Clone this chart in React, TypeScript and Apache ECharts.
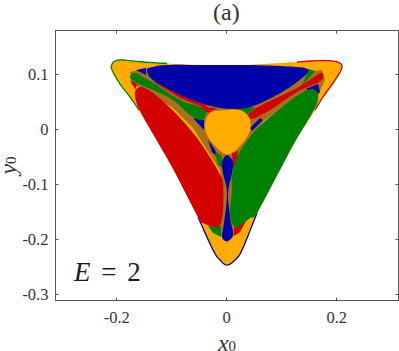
import React, { useEffect, useRef } from "react";
import * as echarts from "echarts";

type Pt = [number, number];

const orange = "#FFAB00";
const blue = "#0000A8";
const red = "#D20000";
const green = "#008000";
const mixed = "#A8701C";

const xTicks = [-0.2, 0, 0.2];
const yTicks = [-0.3, -0.2, -0.1, 0, 0.1];

const outerBoundary: Pt[] = [
  [-0.2091, 0.1164], [-0.2031, 0.1236], [-0.1885, 0.1255], [-0.1522, 0.1218], [-0.1085, 0.1191],
  [-0.0485, 0.1164], [0.006, 0.1155], [0.066, 0.1182], [0.1278, 0.1218], [0.1696, 0.1245],
  [0.1933, 0.1236], [0.2042, 0.1209], [0.2096, 0.1145], [0.206, 0.1036], [0.1933, 0.0836],
  [0.1751, 0.0582], [0.1605, 0.0345], [0.126, -0.02], [0.0969, -0.0709], [0.0551, -0.1527], [0.0278, -0.22],
  [0.0151, -0.2382], [0.0005, -0.2473], [-0.0122, -0.2382], [-0.0249, -0.22], [-0.0522, -0.16],
  [-0.0976, -0.0709], [-0.1267, -0.02], [-0.1595, 0.0345], [-0.1758, 0.0582], [-0.194, 0.0818], [-0.2085, 0.1073],
];
const edgeTopLeft: Pt[] = [
  [-0.1595, 0.0345], [-0.1758, 0.0582], [-0.194, 0.0818], [-0.2085, 0.1073], [-0.2091, 0.1164], [-0.2031, 0.1236],
  [-0.1885, 0.1255], [-0.1522, 0.1218], [-0.1085, 0.1191],
];
const edgeRight: Pt[] = [
  [0.1278, 0.1218], [0.1696, 0.1245], [0.1933, 0.1236], [0.2042, 0.1209], [0.2096, 0.1145],
  [0.206, 0.1036], [0.1933, 0.0836], [0.1751, 0.0582], [0.1605, 0.0345],
];
const edgeBottom: Pt[] = [
  [0.0551, -0.1527], [0.0278, -0.22], [0.0151, -0.2382], [0.0005, -0.2473], [-0.0122, -0.2382],
  [-0.0249, -0.22], [-0.0522, -0.16],
];
const mixedStar: Pt[] = [
  [-0.1758, 0.1036], [-0.1449, 0.1109], [-0.0849, 0.0673], [-0.0358, 0.0455], [-0.0013, 0.0418],
  [0.0424, 0.0436], [0.0842, 0.06], [0.1424, 0.1036], [0.1733, 0.1073], [0.1787, 0.0891],
  [0.166, 0.0618], [0.1096, 0.0473], [0.066, 0.0127], [0.0369, -0.0255], [0.0169, -0.0691],
  [0.0078, -0.1527], [0.0242, -0.18], [0.0005, -0.2073], [-0.0231, -0.18], [-0.0067, -0.1473],
  [-0.0122, -0.0745], [-0.0358, -0.0382], [-0.0613, 0.0018], [-0.0976, 0.0382], [-0.1576, 0.0764],
  [-0.174, 0.08],
];

const blueLobe: Pt[] = [
  [-0.1449, 0.1073], [-0.1351, 0.1127], [-0.1085, 0.1164], [-0.0485, 0.1164], [0.006, 0.1164],
  [0.0424, 0.1164], [0.0969, 0.1145], [0.1424, 0.1109], [0.146, 0.1018], [0.1205, 0.08],
  [0.0842, 0.0582], [0.0424, 0.04], [0.006, 0.0364], [-0.0358, 0.0436], [-0.0849, 0.0618],
  [-0.134, 0.0891],
];
const redLobe: Pt[] = [
  [-0.1576, 0.0764], [-0.1667, 0.0655], [-0.1595, 0.0364], [-0.1267, -0.0218], [-0.0976, -0.0727], [-0.0522, -0.16],
  [-0.0431, -0.1709], [-0.0213, -0.1782], [-0.0122, -0.1745], [-0.0067, -0.1473], [-0.0067, -0.0982],
  [-0.0122, -0.0836], [-0.0249, -0.06], [-0.054, -0.0164], [-0.0849, 0.02], [-0.1122, 0.0473], [-0.1395, 0.0691],
];
const greenLobe: Pt[] = [
  [0.1569, 0.0727], [0.166, 0.0618], [0.1605, 0.0382], [0.126, -0.02], [0.0969, -0.0745], [0.0551, -0.1527],
  [0.0424, -0.1618], [0.0205, -0.1782], [0.0115, -0.1745], [0.006, -0.1527], [0.0096, -0.1109],
  [0.0096, -0.0836], [0.0205, -0.0473], [0.0478, -0.0073], [0.0787, 0.0218], [0.1096, 0.0473], [0.1387, 0.0673],
];
const orangeCore: Pt[] = [
  [-0.0395, 0.0073], [-0.0304, 0.0291], [-0.0031, 0.0345], [0.0242, 0.0345], [0.0405, 0.0218],
  [0.0433, 0.0036], [0.0369, -0.0145], [0.0205, -0.0345], [0.006, -0.0455], [-0.0031, -0.0455],
  [-0.0176, -0.0345], [-0.034, -0.0145],
];
const greenDrop: Pt[] = [
  [-0.1758, 0.0945], [-0.1667, 0.1018], [-0.1485, 0.0927], [-0.1267, 0.08], [-0.0849, 0.0527],
  [-0.0485, 0.04], [-0.0376, 0.0291], [-0.0449, 0.0164], [-0.0667, 0.0255], [-0.0976, 0.0527],
  [-0.134, 0.0709], [-0.1631, 0.0836],
];
const redDrop: Pt[] = [
  [0.1733, 0.1018], [0.1751, 0.0927], [0.1642, 0.0836], [0.1278, 0.0673], [0.0787, 0.0345],
  [0.046, 0.0182], [0.0387, 0.0236], [0.0478, 0.0345], [0.0787, 0.0509], [0.1278, 0.0745],
  [0.1642, 0.0982],
];
const blueDrop: Pt[] = [
  [0.0005, -0.0473], [-0.0085, -0.06], [-0.0067, -0.08], [0.0005, -0.1164], [-0.0049, -0.1709],
  [-0.0085, -0.1964], [0.0005, -0.2036], [0.0115, -0.1927], [0.006, -0.16], [0.0024, -0.1164],
  [0.0096, -0.08], [0.0115, -0.06],
];

const bluePatches: Pt[][] = [
  [[-0.0613, 0.02], [-0.0413, 0.0164], [-0.0413, -0.0018]],
  [[-0.034, -0.02], [-0.0231, -0.0345], [-0.014, -0.0527], [-0.0267, -0.0418]],
  [[0.0605, 0.02], [0.066, 0.0164], [0.046, -0.0036], [0.0424, 0.0018]],
  [[0.1442, 0.0727], [0.166, 0.0818], [0.1696, 0.0673], [0.1624, 0.06]],
  [[-0.1649, 0.1073], [-0.1467, 0.1109], [-0.1467, 0.0982]],
];
const greenPatches: Pt[][] = [
  [[-0.0213, -0.0418], [-0.0085, -0.0491], [-0.0085, -0.0691], [-0.0158, -0.0655]],
  [[0.1478, 0.1091], [0.1605, 0.1055], [0.1369, 0.0782], [0.1424, 0.0927]],
  [[0.0096, 0.0382], [0.0515, 0.04], [0.0369, 0.0255]],
  [[-0.034, -0.1764], [-0.0104, -0.1764], [-0.0104, -0.1964], [-0.0249, -0.1891]],
];
const redPatches: Pt[][] = [
  [[0.0096, -0.0436], [0.0205, -0.04], [0.0169, -0.0655], [0.0115, -0.0691]],
  [[-0.1356, 0.0891], [-0.0849, 0.0636], [-0.0376, 0.0436], [-0.0304, 0.0345], [-0.0849, 0.0564], [-0.1267, 0.0818]],
  [[-0.0522, 0.04], [-0.0176, 0.0382], [-0.034, 0.0291]],
  [[-0.174, 0.0891], [-0.1631, 0.0818], [-0.1667, 0.0709]],
  [[0.0133, -0.18], [0.0351, -0.1673], [0.0242, -0.1873], [0.0133, -0.1945]],
];

type Layer = { pts: Pt[]; color: string; curved: boolean; line?: boolean };
const layers: Layer[] = [
  { pts: outerBoundary, color: orange, curved: true },
  { pts: edgeTopLeft, color: green, curved: true, line: true },
  { pts: edgeRight, color: red, curved: true, line: true },
  { pts: edgeBottom, color: blue, curved: true, line: true },
  { pts: mixedStar, color: mixed, curved: false },
  ...bluePatches.map((pts) => ({ pts, color: blue, curved: false })),
  ...greenPatches.map((pts) => ({ pts, color: green, curved: false })),
  ...redPatches.map((pts) => ({ pts, color: red, curved: false })),
  { pts: blueLobe, color: blue, curved: true },
  { pts: redLobe, color: red, curved: true },
  { pts: greenLobe, color: green, curved: true },
  { pts: greenDrop, color: green, curved: true },
  { pts: redDrop, color: red, curved: true },
  { pts: blueDrop, color: blue, curved: true },
  { pts: orangeCore, color: orange, curved: true },
];

// Rounds an outline drawn through the scaled points (Catmull-Rom, screen space).
function rounded(points: number[][], closed: boolean): number[][] {
  const n = points.length;
  const at = (i: number) => (closed ? points[(i + n) % n] : points[Math.min(n - 1, Math.max(0, i))]);
  const out: number[][] = [];
  const last = closed ? n : n - 1;
  for (let i = 0; i < last; i++) {
    const [p0, p1, p2, p3] = [at(i - 1), at(i), at(i + 1), at(i + 2)];
    for (let k = 0; k < 8; k++) {
      const t = k / 8;
      const a = 2 * p1[0] + (p2[0] - p0[0]) * t + (2 * p0[0] - 5 * p1[0] + 4 * p2[0] - p3[0]) * t * t + (3 * p1[0] - p0[0] - 3 * p2[0] + p3[0]) * t * t * t;
      const b = 2 * p1[1] + (p2[1] - p0[1]) * t + (2 * p0[1] - 5 * p1[1] + 4 * p2[1] - p3[1]) * t * t + (3 * p1[1] - p0[1] - 3 * p2[1] + p3[1]) * t * t * t;
      out.push([a / 2, b / 2]);
    }
  }
  if (!closed) out.push(points[n - 1]);
  return out;
}

const font = '"Liberation Serif", serif';
const ink = "#333333";
const axisGray = "#555555";

export default function App() {
  const ref = useRef<HTMLDivElement>(null);
  useEffect(() => {
    document.body.style.margin = "0";
    const chart = echarts.init(ref.current!, undefined, { renderer: "svg" });
    const baseX = {
      type: "value" as const,
      min: -0.3113,
      max: 0.3123,
      splitLine: { show: false },
      axisLine: { show: true, onZero: false, lineStyle: { color: axisGray, width: 1 } },
      axisTick: { show: true, inside: true, length: 3, customValues: xTicks, lineStyle: { color: axisGray } },
    };
    const baseY = {
      type: "value" as const,
      min: -0.3118,
      max: 0.1791,
      splitLine: { show: false },
      axisLine: { show: true, onZero: false, lineStyle: { color: axisGray, width: 1 } },
      axisTick: { show: true, inside: true, length: 3, customValues: yTicks, lineStyle: { color: axisGray } },
    };
    const labelStyle = { color: ink, fontFamily: font, fontSize: 16.5 };
    const rich = {
      i: { fontFamily: font, fontStyle: "italic" as const, fontSize: 24, color: ink, lineHeight: 18 },
      s: { fontFamily: font, fontSize: 15, color: ink, lineHeight: 12, padding: [6, 0, 0, 0] },
    };
    chart.setOption({
      animation: false,
      grid: { left: 55.5, top: 30.5, width: 343, height: 270, outerBoundsMode: "none", containLabel: false },
      xAxis: [
        {
          ...baseX,
          position: "bottom",
          name: "{i|x}{s|0}",
          nameLocation: "middle",
          nameGap: 33,
          nameMoveOverlap: false,
          nameTextStyle: { rich },
          axisLabel: { ...labelStyle, margin: 8, customValues: xTicks, formatter: (v: number) => String(v) },
        },
        { ...baseX, position: "top", axisLabel: { show: false } },
      ],
      yAxis: [
        {
          ...baseY,
          position: "left",
          name: "{i|y}{s|0}",
          nameLocation: "middle",
          nameGap: 39,
          nameMoveOverlap: false,
          nameTextStyle: { rich },
          axisLabel: { ...labelStyle, margin: 7, customValues: yTicks, formatter: (v: number) => String(v) },
        },
        { ...baseY, position: "right", axisLabel: { show: false } },
      ],
      graphic: [
        {
          type: "text",
          left: 213,
          top: 0,
          style: { text: "(a)", fontFamily: font, fontSize: 24, fill: ink },
        },
        {
          type: "text",
          left: 74,
          top: 258,
          style: {
            text: "{e|E}{n| = }{d|2}",
            rich: {
              e: { fontStyle: "italic", fontFamily: font, fontSize: 27, fill: "#1a1a1a" },
              n: { fontFamily: font, fontSize: 27, fill: "#1a1a1a", padding: [0, 4, 0, 4] },
              d: { fontFamily: font, fontSize: 27, fill: "#1a1a1a" },
            },
            fontFamily: font,
            fontSize: 27,
          },
        },
      ],
      series: [
        {
          type: "custom",
          coordinateSystem: "cartesian2d",
          xAxisIndex: 0,
          yAxisIndex: 0,
          clip: true,
          silent: true,
          data: layers.map((_, i) => [i]),
          encode: { x: -1, y: -1 },
          renderItem: (params: any, api: any) => {
            const layer = layers[params.dataIndex];
            const scaled = layer.pts.map((p) => api.coord(p));
            if (layer.line) {
              return {
                type: "polyline",
                shape: { points: rounded(scaled, false) },
                style: { fill: "none", stroke: layer.color, lineWidth: 1.3 },
              };
            }
            return {
              type: "polygon",
              shape: { points: layer.curved ? rounded(scaled, true) : scaled },
              style: { fill: layer.color },
            };
          },
        },
      ],
    });
    return () => chart.dispose();
  }, []);
  return <div ref={ref} style={{ width: 399, height: 351 }} />;
}
